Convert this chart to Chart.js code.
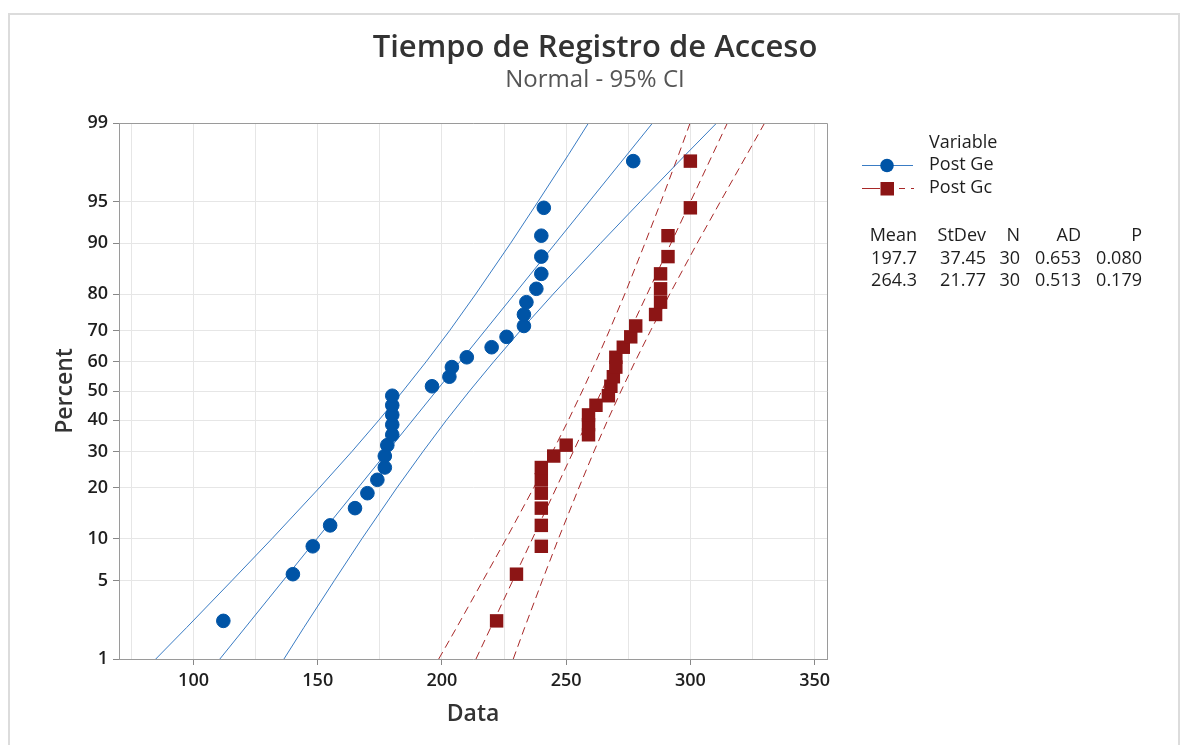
<!DOCTYPE html>
<html>
<head>
<meta charset="utf-8">
<title>Tiempo de Registro de Acceso</title>
<script src="https://cdn.jsdelivr.net/npm/chart.js@4.4.0/dist/chart.umd.min.js"></script>
<style>
  html, body { margin: 0; padding: 0; background: #fff; }
  #wrap { width: 1182px; height: 745px; position: relative; }
</style>
</head>
<body>
<div id="wrap"><canvas id="chart" width="1182" height="745"></canvas></div>
<script>
// Normal probability plot - Post Ge vs Post Gc

const titleText = 'Tiempo de Registro de Acceso';
const subtitleText = 'Normal - 95% CI';

// plotting positions (percent) for the 30 sorted values
const percents = [2.30, 5.59, 8.88, 12.17, 15.46, 18.75, 22.04, 25.33, 28.62, 31.91,
                  35.20, 38.49, 41.78, 45.07, 48.36, 51.64, 54.93, 58.22, 61.51, 64.80,
                  68.09, 71.38, 74.67, 77.96, 81.25, 84.54, 87.83, 91.12, 94.41, 97.70];

const postGe = [112, 140, 148, 155, 165, 170, 174, 177, 177, 178,
                180, 180, 180, 180, 180, 196, 203, 204, 210, 220,
                226, 233, 233, 234, 238, 240, 240, 240, 241, 277];
const postGc = [222, 230, 240, 240, 240, 240, 240, 240, 245, 250,
                259, 259, 259, 262, 267, 268, 269, 270, 270, 273,
                276, 278, 286, 288, 288, 288, 291, 291, 300, 300];

// fitted lines (ends at 1% and 99%)
const fitPercents = [1, 99];
const fitGe = [110.6, 284.8];
const fitGc = [213.7, 314.9];

// 95% CI bands
const bandPercents = [1, 2, 5, 10, 20, 30, 40, 50, 60, 70, 80, 90, 95, 98, 99];
const geLower = [84.8, 97.2, 115.5, 131.6, 150.6, 163.8, 174.6, 184.3, 193.6, 203.1, 213.6, 227.6, 238.7, 251.0, 259.0];
const geUpper = [136.4, 144.4, 156.7, 167.8, 181.8, 192.4, 201.8, 211.1, 220.8, 231.6, 244.8, 263.8, 279.9, 298.2, 310.6];
const gcLower = [198.7, 205.9, 216.5, 225.9, 236.9, 244.6, 250.9, 256.5, 261.9, 267.4, 273.6, 281.7, 288.2, 295.3, 299.9];
const gcUpper = [228.7, 233.3, 240.4, 246.9, 255.1, 261.2, 266.7, 272.1, 277.7, 284.0, 291.7, 302.7, 312.1, 322.8, 329.9];

// axes
const yTickPercents = [1, 5, 10, 20, 30, 40, 50, 60, 70, 80, 90, 95, 99];
const xTicks = [75, 100, 125, 150, 175, 200, 225, 250, 275, 300, 325, 350];
const xLabelTicks = [100, 150, 200, 250, 300, 350];

// legend table
const seriesNames = ['Post Ge', 'Post Gc'];
const statsHead = ['Mean', 'StDev', 'N', 'AD', 'P'];
const statsGe = ['197.7', '37.45', '30', '0.653', '0.080'];
const statsGc = ['264.3', '21.77', '30', '0.513', '0.179'];

const colors = {
    blue: '#0054a6',
    blueLine: '#3a7cc4',
    red: '#8c1515',
    redLine: '#a82828',
    grid: '#e6e6e6',
    axis: '#9a9a9a',
    text: '#1e1e1e',
    title: '#333',
    sub: '#555'
};
const FONT = "'Open Sans', 'Noto Sans', sans-serif";

// inverse normal CDF (Acklam) -> probability axis transform
function probit(p) {
    const a = [-3.969683028665376e+01, 2.209460984245205e+02, -2.759285104469687e+02, 1.383577518672690e+02, -3.066479806614716e+01, 2.506628277459239e+00];
    const b = [-5.447609879822406e+01, 1.615858368580409e+02, -1.556989798598866e+02, 6.680131188771972e+01, -1.328068155288572e+01];
    const c = [-7.784894002430293e-03, -3.223964580411365e-01, -2.400758277161838e+00, -2.549732539343734e+00, 4.374664141464968e+00, 2.938163982698783e+00];
    const d = [7.784695709041462e-03, 3.224671290700398e-01, 2.445134137142996e+00, 3.754408661907416e+00];
    const pl = 0.02425;
    let q, r;
    if (p < pl) {
        q = Math.sqrt(-2 * Math.log(p));
        return (((((c[0]*q+c[1])*q+c[2])*q+c[3])*q+c[4])*q+c[5]) / ((((d[0]*q+d[1])*q+d[2])*q+d[3])*q+1);
    }
    if (p > 1 - pl) {
        q = Math.sqrt(-2 * Math.log(1 - p));
        return -(((((c[0]*q+c[1])*q+c[2])*q+c[3])*q+c[4])*q+c[5]) / ((((d[0]*q+d[1])*q+d[2])*q+d[3])*q+1);
    }
    q = p - 0.5; r = q * q;
    return (((((a[0]*r+a[1])*r+a[2])*r+a[3])*r+a[4])*r+a[5])*q / (((((b[0]*r+b[1])*r+b[2])*r+b[3])*r+b[4])*r+1);
}

const toPoints = (xs, ps) => xs.map((x, i) => ({ x: x, y: probit(ps[i] / 100) }));

function lineSet(xs, ps, color, dashed) {
    return {
        data: toPoints(xs, ps),
        showLine: true,
        borderColor: color,
        borderWidth: 1,
        borderDash: dashed ? [8, 5] : [],
        pointRadius: 0,
        fill: false,
        order: 2
    };
}

// frame, titles, legend and stats table
const decorations = {
    id: 'decorations',
    beforeDraw(chart) {
        const ctx = chart.ctx;
        ctx.save();
        ctx.fillStyle = '#fff';
        ctx.fillRect(0, 0, chart.width, chart.height);
        ctx.strokeStyle = '#dcdcdc';
        ctx.lineWidth = 2;
        ctx.strokeRect(9, 14, 1170, 760);
        ctx.restore();
    },
    afterDraw(chart) {
        const ctx = chart.ctx;
        const a = chart.chartArea;
        ctx.save();
        // top and right plot border
        ctx.strokeStyle = colors.axis;
        ctx.lineWidth = 1;
        ctx.beginPath();
        ctx.moveTo(a.left, a.top + 0.5);
        ctx.lineTo(a.right + 0.5, a.top + 0.5);
        ctx.lineTo(a.right + 0.5, a.bottom);
        ctx.stroke();

        ctx.textBaseline = 'middle';
        ctx.textAlign = 'center';
        ctx.fillStyle = colors.title;
        ctx.font = '600 31px ' + FONT;
        ctx.fillText(titleText, 595, 48);
        ctx.fillStyle = colors.sub;
        ctx.font = '24px ' + FONT;
        ctx.fillText(subtitleText, 595, 80);

        // legend
        ctx.textAlign = 'left';
        ctx.fillStyle = colors.text;
        ctx.font = '18px ' + FONT;
        ctx.fillText('Variable', 929, 143);
        ctx.fillText(seriesNames[0], 929, 165);
        ctx.fillText(seriesNames[1], 929, 188);

        ctx.strokeStyle = colors.blueLine;
        ctx.beginPath();
        ctx.moveTo(862, 165.5); ctx.lineTo(913, 165.5);
        ctx.stroke();
        ctx.fillStyle = colors.blue;
        ctx.beginPath();
        ctx.arc(887, 165.5, 6.8, 0, Math.PI * 2);
        ctx.fill();

        ctx.strokeStyle = colors.redLine;
        ctx.beginPath();
        ctx.moveTo(862, 188.5); ctx.lineTo(880, 188.5);
        ctx.moveTo(899, 188.5); ctx.lineTo(905, 188.5);
        ctx.moveTo(911, 188.5); ctx.lineTo(914, 188.5);
        ctx.stroke();
        ctx.fillStyle = colors.red;
        ctx.fillRect(880.5, 182, 13.5, 13.5);

        // stats table, right aligned columns
        const colRight = [917, 986, 1020, 1081, 1142];
        ctx.textAlign = 'right';
        ctx.fillStyle = colors.text;
        [statsHead, statsGe, statsGc].forEach((row, r) => {
            row.forEach((txt, c) => ctx.fillText(txt, colRight[c], 236 + r * 22.5));
        });
        ctx.restore();
    }
};

new Chart(document.getElementById('chart'), {
    type: 'scatter',
    data: {
        datasets: [
            {
                label: seriesNames[0],
                data: toPoints(postGe, percents),
                backgroundColor: colors.blue,
                borderColor: colors.blue,
                pointStyle: 'circle',
                pointRadius: 6.8,
                pointHoverRadius: 6.8,
                order: 0
            },
            {
                label: seriesNames[1],
                data: toPoints(postGc, percents),
                backgroundColor: colors.red,
                borderColor: colors.red,
                pointStyle: 'rect',
                pointRadius: 9.5,
                pointHoverRadius: 9.5,
                borderWidth: 0,
                order: 0
            },
            lineSet(fitGe, fitPercents, colors.blueLine, false),
            lineSet(geLower, bandPercents, colors.blueLine, false),
            lineSet(geUpper, bandPercents, colors.blueLine, false),
            lineSet(fitGc, fitPercents, colors.redLine, true),
            lineSet(gcLower, bandPercents, colors.redLine, true),
            lineSet(gcUpper, bandPercents, colors.redLine, true)
        ]
    },
    options: {
        responsive: false,
        animation: false,
        events: [],
        layout: { padding: { left: 0, top: 123, right: 355, bottom: 0 } },
        plugins: {
            legend: { display: false },
            tooltip: { enabled: false }
        },
        scales: {
            x: {
                type: 'linear',
                min: 70,
                max: 355,
                afterFit: (s) => { s.height = 86; },
                afterBuildTicks: (s) => { s.ticks = xTicks.map(v => ({ value: v })); },
                grid: {
                    color: colors.grid,
                    tickLength: 6,
                    tickColor: (c) => (c.tick && xLabelTicks.includes(c.tick.value)) ? '#888' : 'rgba(0,0,0,0)'
                },
                border: { color: colors.axis },
                ticks: {
                    autoSkip: false,
                    maxRotation: 0,
                    padding: 5,
                    color: colors.text,
                    font: { family: FONT, size: 18, weight: '600' },
                    callback: (v) => xLabelTicks.includes(v) ? String(v) : ''
                },
                title: {
                    display: true,
                    text: 'Data',
                    color: colors.title,
                    font: { family: FONT, size: 23, weight: '600' },
                    padding: { top: 0, bottom: 17 }
                }
            },
            y: {
                type: 'linear',
                min: probit(0.01),
                max: probit(0.99),
                afterFit: (s) => { s.width = 119; },
                afterBuildTicks: (s) => { s.ticks = yTickPercents.map(p => ({ value: probit(p / 100) })); },
                grid: {
                    color: colors.grid,
                    tickLength: 6,
                    tickColor: '#888'
                },
                border: { color: colors.axis },
                ticks: {
                    autoSkip: false,
                    padding: 5,
                    color: colors.text,
                    font: { family: FONT, size: 18, weight: '600' },
                    callback: (v, i) => String(yTickPercents[i])
                },
                title: {
                    display: true,
                    text: 'Percent',
                    color: colors.title,
                    font: { family: FONT, size: 23, weight: '600' },
                    padding: { top: 52, bottom: 0 }
                }
            }
        }
    },
    plugins: [decorations]
});
</script>
</body>
</html>
